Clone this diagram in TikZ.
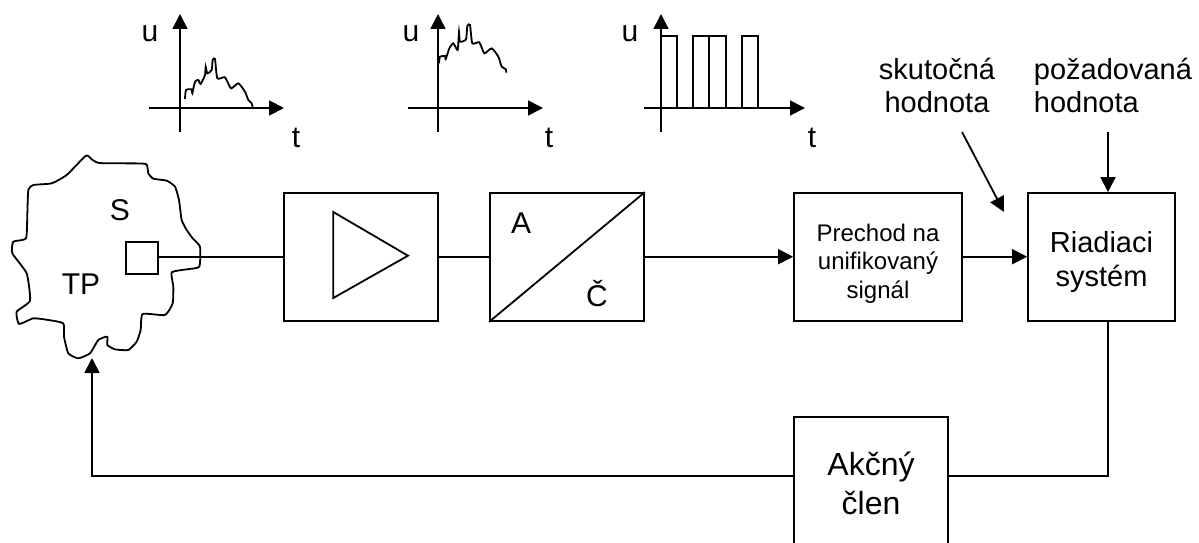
\documentclass[tikz,border=0pt]{standalone}
\usepackage{fontspec}
\setmainfont{Liberation Sans}
\usetikzlibrary{arrows.meta}
\tikzset{
  x=1pt,y=-1pt,
  every path/.style={line width=1.8pt,black},
  blockbox/.style={draw,rectangle,inner sep=0pt,align=center,font=\fontsize{29}{34}\selectfont},
  lab/.style={inner sep=0pt,anchor=base,font=\fontsize{30}{34}\selectfont},
  toplab/.style={inner sep=0pt,anchor=north,align=center,font=\fontsize{29}{33}\selectfont},
  arr/.style={-{Triangle[length=15pt,width=15pt]},line width=1.8pt},
  axis/.style={-{Triangle[length=15pt,width=15pt]},line width=1.8pt},
}
\begin{document}
\begin{tikzpicture}
\useasboundingbox (0,0) rectangle (1199,543);
% process blob
\begin{scope}[x=0.33333pt,y=-0.33333pt,shift={(0,420)}]
\draw[line join=round] plot[smooth cycle,tension=0.3] coordinates {
(258,47)(275,58)(297,69)(370,70)(438,72)(445,100)(460,116)(500,122)(525,140)(537,180)(545,240)(560,270)(578,295)(600,320)(598,380)(560,388)(515,397)(520,440)(518,490)(495,525)(428,522)(422,570)(410,605)(385,630)(345,628)(322,615)(322,590)(295,600)(270,640)(235,655)(205,640)(192,590)(190,550)(145,540)(100,535)(57,552)(50,515)(90,482)(80,400)(37,340)(40,305)(78,295)(82,220)(85,150)(100,135)(155,130)(200,105)};
\end{scope}
\node[lab] (s) at (120,220) {S};
\node[lab] (tp) at (81,294) {TP};
\node[draw,minimum size=32pt,inner sep=0pt] (sensor) at (142,258.3) {};
\coordinate (tpin) at (92,358);
\coordinate (sigline) at (0,256.7);
% blocks
\node[blockbox,minimum width=154pt,minimum height=128pt] (amp) at (361,257) {};
\draw (333.3,212) -- (333.3,298) -- (408,255.7) -- cycle;
\node[blockbox,minimum width=154pt,minimum height=128pt] (ad) at (567,257) {};
\draw (ad.south west) -- (ad.north east);
\node[lab] (a) at (521,233) {A};
\node[lab] (c) at (597,306.7) {Č};
\node[blockbox,minimum width=168pt,minimum height=128pt,font=\fontsize{24}{28.3}\selectfont] (pre) at (878,257) {\rule{0pt}{30.7pt}Prechod na\\unifikovaný\\signál};
\node[blockbox,minimum width=147pt,minimum height=128pt] (rs) at (1101.5,257) {\rule{0pt}{31pt}Riadiaci\\systém};
\node[blockbox,minimum width=154pt,minimum height=129pt,font=\fontsize{32}{39}\selectfont] (ac) at (871,481.5) {\rule{0pt}{27pt}Akčný\\člen};
% connectors
\draw (sensor.east |- sigline) -- (amp.west |- sigline);
\draw (amp.east |- sigline) -- (ad.west |- sigline);
\draw[arr] (ad.east |- sigline) -- (pre.west |- sigline);
\draw[arr] (pre.east |- sigline) -- (rs.west |- sigline);
\coordinate (rsout) at (1108,321);
\coordinate (loop) at (0,476);
\draw[line join=miter] (rsout) |- (ac.east |- loop);
\draw[arr,rounded corners=0pt] (ac.west |- loop) -| (tpin);
% setpoint labels
\node[toplab] (sk) at (937,57) {skutočná\\hodnota};
\node[toplab,anchor=north west,align=left] (po) at (1033,57) {požadovaná\\hodnota};
\coordinate (skend) at (1004,212);
\coordinate (skstart) at (962,132);
\coordinate (postart) at (1108,132);
\draw[arr] (skstart) -- (skend);
\draw[arr] (postart) -- (postart |- rs.north);
% graph 1
\coordinate (g1b) at (180,132); \coordinate (g1t) at (180,14);
\coordinate (g1l) at (149,108); \coordinate (g1r) at (284,108);
\draw[axis] (g1b) -- (g1t);
\draw[axis] (g1l) -- (g1r);
\node[lab] (u1) at (150,41.7) {u};
\node[lab] (t1) at (296,147.5) {t};
\begin{scope}[x=0.33333pt,y=-0.33333pt,shift={(390,0)}]
\draw plot[smooth,tension=0.35] coordinates {(165,297)(168,270)(185,268)(187,280)(195,245)(205,240)(212,252)(225,225)(227,200)(232,220)(245,210)(248,180)(255,177)(262,235)(285,232)(303,265)(325,250)(345,275)(355,300)(365,310)(368,322)};
\end{scope}
% graph 2
\coordinate (g2b) at (438,132); \coordinate (g2t) at (438,14);
\coordinate (g2l) at (408,108); \coordinate (g2r) at (543,108);
\draw[axis] (g2b) -- (g2t);
\draw[axis] (g2l) -- (g2r);
\node[lab] (u2) at (411,42) {u};
\node[lab] (t2) at (549,147.5) {t};
\begin{scope}[x=0.33333pt,y=-0.33333pt,shift={(1170,0)}]
\draw plot[smooth,tension=0.35] coordinates {(147,190)(150,170)(165,168)(167,178)(178,145)(190,130)(203,150)(207,95)(210,125)(228,118)(232,78)(240,75)(247,130)(268,127)(283,160)(305,145)(325,170)(335,200)(347,207)(349,218)};
\end{scope}
% graph 3
\coordinate (g3b) at (661,132); \coordinate (g3t) at (661,14);
\coordinate (g3l) at (644,108); \coordinate (g3r) at (805,108);
\draw[axis] (g3b) -- (g3t);
\draw[axis] (g3l) -- (g3r);
\node[lab] (u3) at (630,42) {u};
\node[lab] (t3) at (812,147.5) {t};
\draw[line join=miter] (661,36) -- (677,36) -- (677,108) (693,108) -- (693,36) -- (725.7,36) -- (725.7,108) (709,36) -- (709,108) (742,108) -- (742,36) -- (758,36) -- (758,108);
\end{tikzpicture}
\end{document}
